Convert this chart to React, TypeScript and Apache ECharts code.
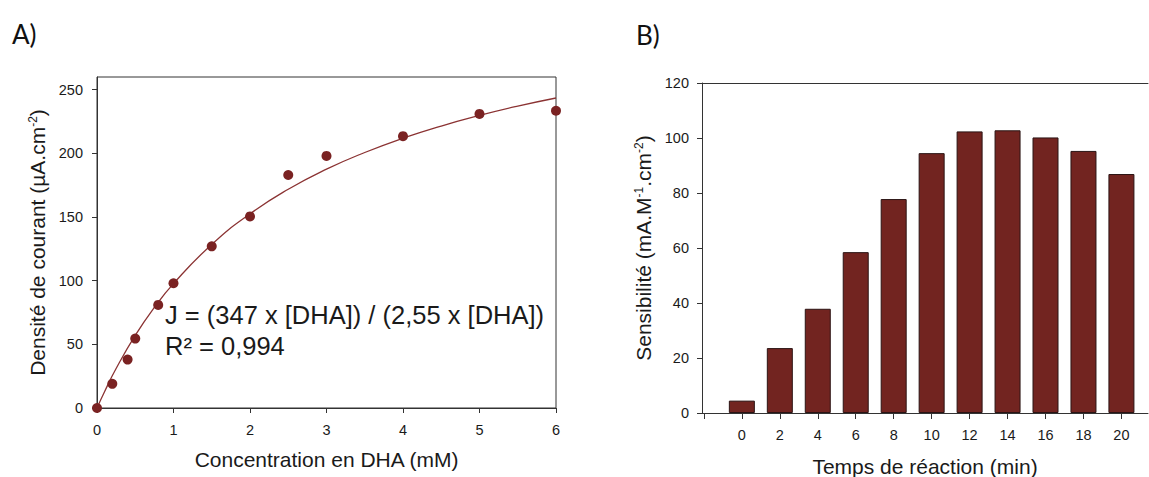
import React, { useEffect, useRef } from 'react';
import * as echarts from 'echarts';

// Panel A: DHA concentration (mM) vs current density (µA.cm-2)
const concentrations = [0, 0.2, 0.4, 0.5, 0.8, 1, 1.5, 2, 2.5, 3, 4, 5, 6];
const currentDensity = [0, 19, 38, 54.5, 81, 98, 127, 150.5, 183, 198, 213.5, 231, 233.5];
// Fitted curve
const fitConcentrations = [0, 0.1, 0.25, 0.5, 0.75, 1, 1.5, 2, 2.5, 3, 3.5, 4, 4.5, 5, 5.5, 6];
const fitDensity = [0, 13, 31, 57, 79, 97.7, 128.5, 152.5, 171.8, 187.6, 200.7, 211.9, 221.5, 229.8, 237.1, 243.5];
const leftXTicks = [0, 1, 2, 3, 4, 5, 6];
const leftYTicks = [0, 50, 100, 150, 200, 250];

// Panel B: reaction time (min) vs sensitivity (mA.M-1.cm-2)
const reactionTimes = [0, 2, 4, 6, 8, 10, 12, 14, 16, 18, 20];
const sensitivity = [4.5, 23.6, 37.9, 58.5, 77.8, 94.5, 102.4, 102.8, 100.2, 95.3, 86.9];
const rightXTicks = [-2, 0, 2, 4, 6, 8, 10, 12, 14, 16, 18, 20];
const rightXLabels = [0, 2, 4, 6, 8, 10, 12, 14, 16, 18, 20];
const rightYTicks = [0, 20, 40, 60, 80, 100, 120];

const annotationLines = ['J = (347 x [DHA]) / (2,55 x [DHA])', 'R² = 0,994'];

const FONT = '"Liberation Sans", Arial, sans-serif';
const TEXT = '#1a1a1a';
const AXIS = '#333333';
const MAROON = '#7a2222';
const BAR = '#722420';

export default function App() {
  const ref = useRef<HTMLDivElement>(null);

  useEffect(() => {
    if (!ref.current) return;
    const chart = echarts.init(ref.current, null, { renderer: 'svg' });

    const axisLine = { show: true, onZero: false, lineStyle: { color: AXIS, width: 1 } };
    const tickStyle = { lineStyle: { color: AXIS, width: 1 } };
    const labelStyle = { color: TEXT, fontSize: 14.5, fontFamily: FONT };
    const nameStyle = (rich: boolean) => ({
      color: TEXT,
      fontSize: 21,
      fontFamily: FONT,
      rich: rich
        ? { sup: { fontSize: 12, fontFamily: FONT, color: TEXT, verticalAlign: 'top' as const } }
        : undefined,
    });

    const option: any = {
      animation: false,
      backgroundColor: '#ffffff',
      grid: [
        { left: 97, top: 77, width: 459, height: 331, show: true, borderColor: AXIS, borderWidth: 1, backgroundColor: 'transparent', containLabel: false, outerBoundsMode: 'none' },
        { left: 702, top: 83, width: 446, height: 330, containLabel: false, outerBoundsMode: 'none' },
      ],
      xAxis: [
        {
          gridIndex: 0,
          type: 'value',
          min: 0,
          max: 6,
          interval: 1,
          axisLine,
          axisTick: { show: true, length: 5, inside: false, customValues: leftXTicks, ...tickStyle },
          axisLabel: { ...labelStyle, margin: 14, customValues: leftXTicks },
          splitLine: { show: false },
          name: 'Concentration en DHA (mM)',
          nameLocation: 'middle',
          nameGap: 41,
          nameTextStyle: nameStyle(false),
        },
        {
          gridIndex: 1,
          type: 'value',
          min: -2.1,
          max: 21.4,
          axisLine,
          axisTick: { show: true, length: 6, inside: false, customValues: rightXTicks, ...tickStyle },
          axisLabel: { ...labelStyle, margin: 14, customValues: rightXLabels },
          splitLine: { show: false },
          name: 'Temps de réaction (min)',
          nameLocation: 'middle',
          nameGap: 43,
          nameTextStyle: nameStyle(false),
        },
        {
          gridIndex: 1,
          type: 'value',
          position: 'top',
          min: -2.1,
          max: 21.4,
          axisLine,
          axisTick: { show: false },
          axisLabel: { show: false },
          splitLine: { show: false },
        },
      ],
      yAxis: [
        {
          gridIndex: 0,
          type: 'value',
          min: 0,
          max: 260,
          axisLine,
          axisTick: { show: true, length: 5, inside: false, customValues: leftYTicks, ...tickStyle },
          axisLabel: { ...labelStyle, margin: 14, customValues: leftYTicks },
          splitLine: { show: false },
          name: 'Densité de courant (µA.cm{sup|-2})',
          nameLocation: 'middle',
          nameGap: 49,
          nameTextStyle: nameStyle(true),
        },
        {
          gridIndex: 1,
          type: 'value',
          min: 0,
          max: 120,
          interval: 20,
          axisLine,
          axisTick: { show: true, length: 5, inside: false, customValues: rightYTicks, ...tickStyle },
          axisLabel: { ...labelStyle, margin: 13, customValues: rightYTicks },
          splitLine: { show: false },
          name: 'Sensibilité (mA.M{sup|-1}.cm{sup|-2})',
          nameLocation: 'middle',
          nameGap: 48,
          nameTextStyle: nameStyle(true),
        },
      ],
      series: [
        {
          type: 'line',
          xAxisIndex: 0,
          yAxisIndex: 0,
          data: fitConcentrations.map((c, i) => [c, fitDensity[i]]),
          smooth: true,
          showSymbol: false,
          symbol: 'none',
          lineStyle: { color: '#8b3333', width: 1.3 },
          z: 2,
          silent: true,
        },
        {
          type: 'scatter',
          xAxisIndex: 0,
          yAxisIndex: 0,
          data: concentrations.map((c, i) => [c, currentDensity[i]]),
          symbol: 'circle',
          symbolSize: 10,
          itemStyle: { color: MAROON, opacity: 1 },
          z: 3,
          clip: false,
        },
        {
          type: 'bar',
          xAxisIndex: 1,
          yAxisIndex: 1,
          data: reactionTimes.map((t, i) => [t, sensitivity[i]]),
          barWidth: 26,
          itemStyle: { color: BAR, borderColor: '#2b1414', borderWidth: 1 },
        },
      ],
      graphic: [
        { type: 'text', x: 12, y: 34, style: { text: 'A)', fontSize: 26, fontFamily: 'Lato, "Open Sans", sans-serif', fill: '#111', verticalAlign: 'middle' } },
        { type: 'text', x: 636, y: 35, style: { text: 'B)', fontSize: 26, fontFamily: 'Lato, "Open Sans", sans-serif', fill: '#111', verticalAlign: 'middle' } },
        { type: 'text', x: 165, y: 315, z: 10, style: { text: annotationLines[0], fontSize: 25.5, fontFamily: FONT, fill: TEXT, verticalAlign: 'middle' } },
        { type: 'text', x: 165, y: 346, z: 10, style: { text: annotationLines[1], fontSize: 25.5, fontFamily: FONT, fill: TEXT, verticalAlign: 'middle' } },
      ],
    };

    chart.setOption(option);
    return () => chart.dispose();
  }, []);

  return (
    <div
      ref={ref}
      style={{ position: 'fixed', left: 0, top: 0, width: 1149, height: 477, background: '#fff' }}
    />
  );
}
